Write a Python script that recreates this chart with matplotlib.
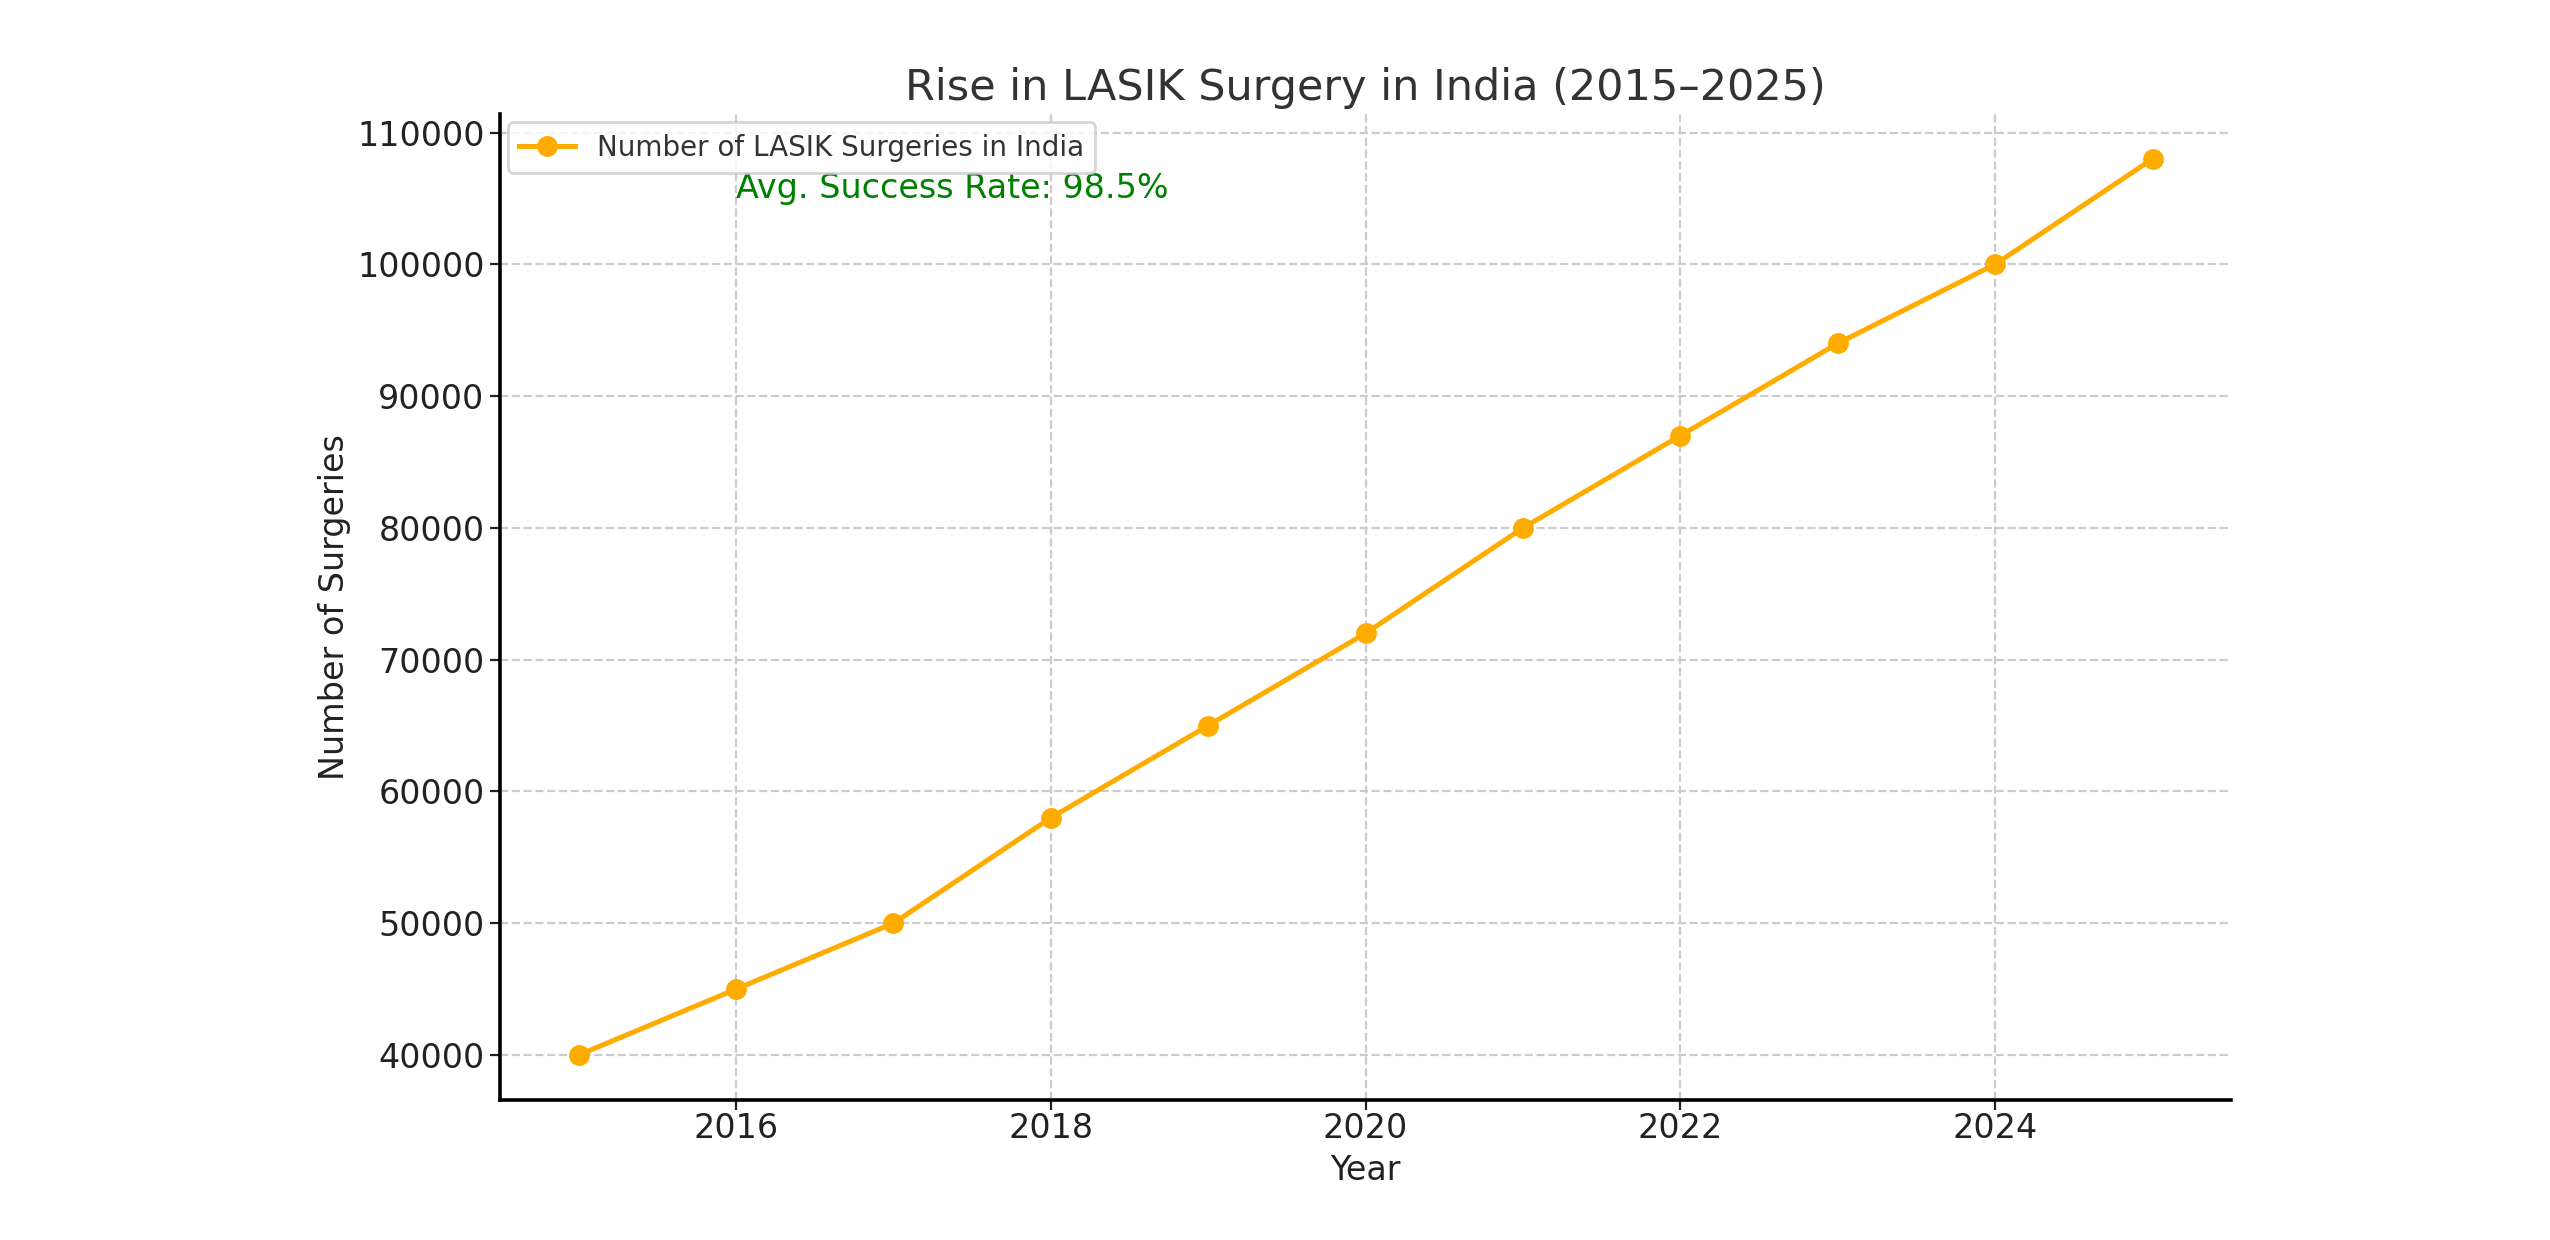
import matplotlib.pyplot as plt

years = [2015, 2016, 2017, 2018, 2019, 2020, 2021, 2022, 2023, 2024, 2025]
surgeries = [40000, 45000, 50000, 58000, 65000, 72000, 80000, 87000, 94000, 100000, 108000]
series_name = "Number of LASIK Surgeries in India"
note = "Avg. Success Rate: 98.5%"
note_x, note_y = 2016, 105000

fig = plt.figure(figsize=(12.75, 6.2), dpi=200)
ax = fig.add_axes([0.196, 0.113, 0.679, 0.795])

ax.plot(years, surgeries, marker='o', color='#FFAC00', linewidth=1.8,
        markersize=6.5, label=series_name)
ax.text(note_x, note_y, note, color='green', fontsize=12)

ax.set_title("Rise in LASIK Surgery in India (2015\u20132025)", fontsize=15.5,
             color='#333333', pad=5)
ax.set_xlabel("Year", fontsize=12, color='#222222', labelpad=3)
ax.set_ylabel("Number of Surgeries", fontsize=12, color='#222222', labelpad=2)
ax.tick_params(labelsize=12, colors='#222222')
ax.tick_params(axis='x', pad=1)
ax.tick_params(axis='y', pad=2)
ax.set_xticks([2016, 2018, 2020, 2022, 2024])

ax.grid(True, linestyle='--', color='#cccccc', linewidth=0.8)
ax.spines['top'].set_visible(False)
ax.spines['right'].set_visible(False)
ax.spines['left'].set_linewidth(1.3)
ax.spines['bottom'].set_linewidth(1.3)

leg = ax.legend(loc='upper left', fontsize=10, borderaxespad=0.3)
for t in leg.get_texts():
    t.set_color('#333333')

fig.savefig("out.png", dpi=200)
